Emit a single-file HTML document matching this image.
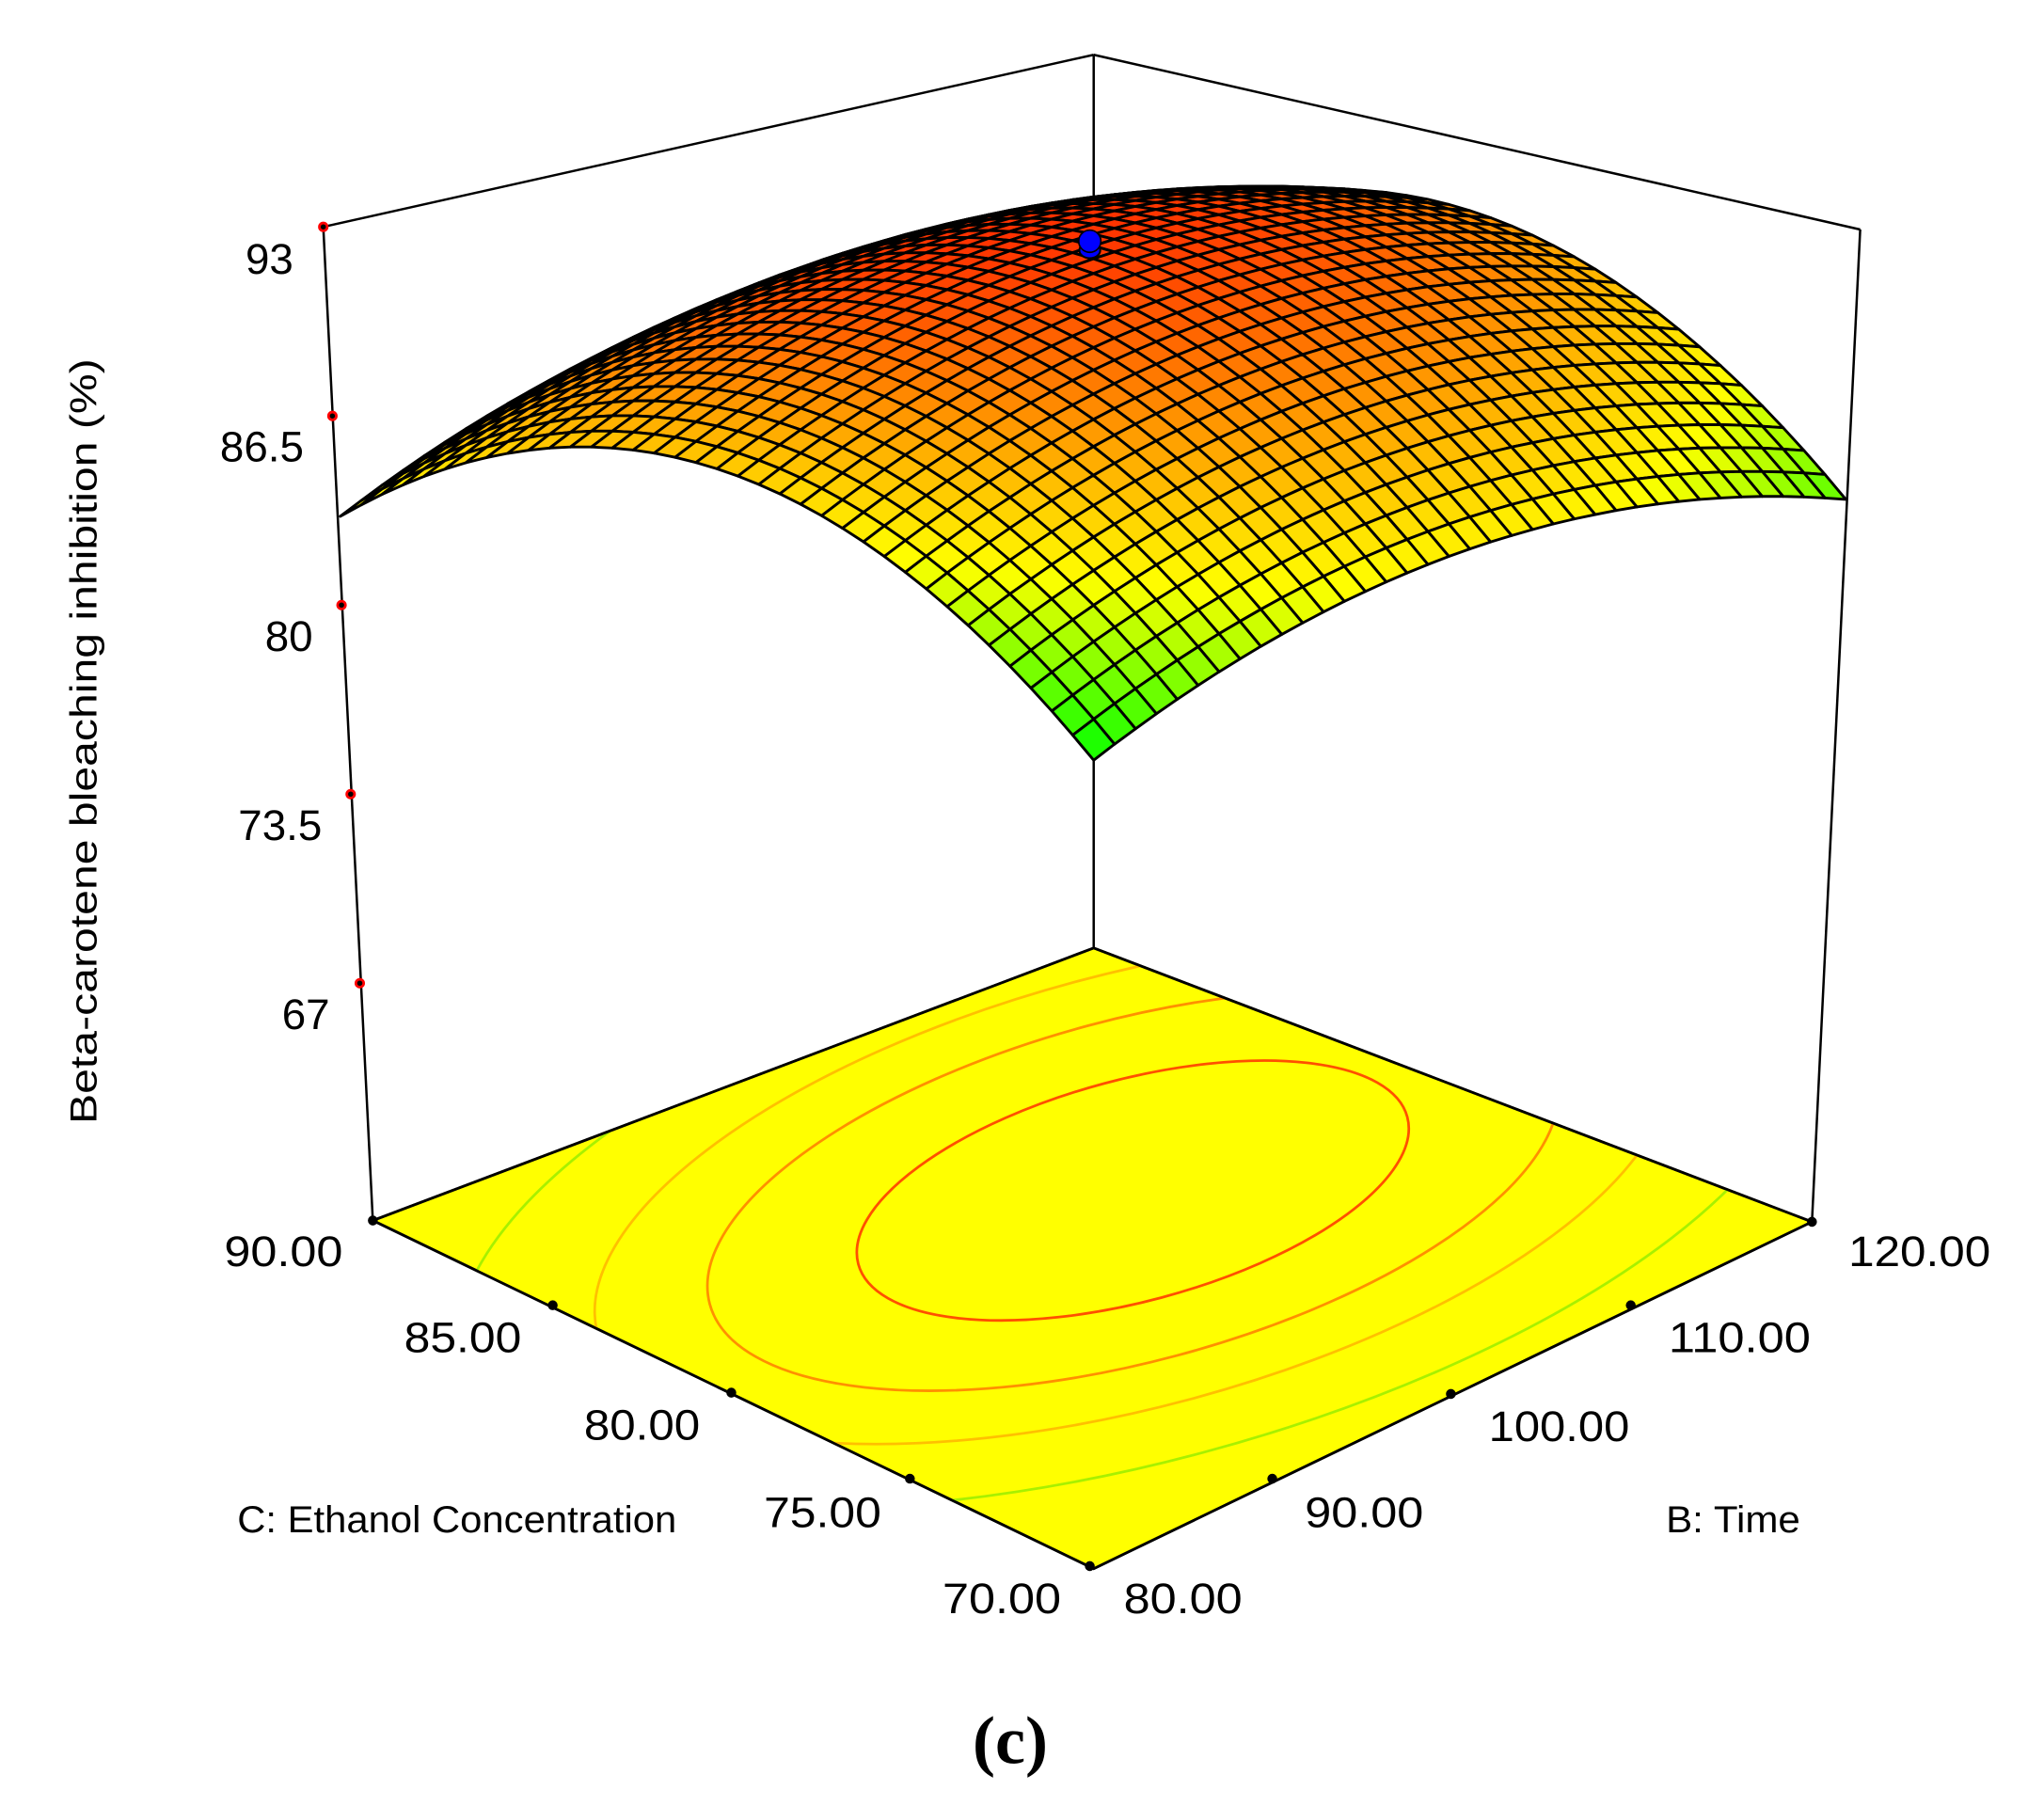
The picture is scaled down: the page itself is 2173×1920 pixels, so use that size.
<!DOCTYPE html>
<html><head><meta charset="utf-8"><style>
html,body{margin:0;padding:0;background:#fff;}
svg{display:block;}
text{font-family:"Liberation Sans",Arial,sans-serif;fill:#000;}
</style></head><body>
<svg id="s" width="2173" height="1920" viewBox="0 0 1568 1385" preserveAspectRatio="none" xmlns="http://www.w3.org/2000/svg">
<defs><clipPath id="fc"><polygon points="286,936 839,727 1390,937 839,1203"/></clipPath></defs>
<rect width="1568" height="1385" fill="#fff"/>
<g stroke="#000" stroke-width="1.8" fill="none">
<line x1="248" y1="174" x2="839" y2="42"/>
<line x1="839" y1="42" x2="1427" y2="176"/>
<line x1="839" y1="42" x2="839" y2="727"/>
<line x1="248" y1="174" x2="286" y2="936"/>
<line x1="1427" y1="176" x2="1390" y2="937"/>
</g>
<polygon points="286,936 839,727 1390,937 839,1203" fill="#ffff00" stroke="#000" stroke-width="2"/>
<g clip-path="url(#fc)" fill="none" stroke-width="2">
<ellipse cx="869" cy="913" rx="534" ry="208" transform="rotate(-15 869 913)" stroke="#a8f000"/>
<ellipse cx="869" cy="913" rx="425" ry="166" transform="rotate(-15 869 913)" stroke="#ffc000"/>
<ellipse cx="869" cy="913" rx="336" ry="131" transform="rotate(-15 869 913)" stroke="#ff9000"/>
<ellipse cx="869" cy="913" rx="218" ry="85" transform="rotate(-15 869 913)" stroke="#ff5000"/>
</g>
<polygon points="286,936 839,727 1390,937 839,1203" fill="none" stroke="#000" stroke-width="2"/>
<g fill="#000">
<circle cx="286" cy="936" r="3.8"/><circle cx="424" cy="1001" r="3.8"/><circle cx="561" cy="1068" r="3.8"/><circle cx="698" cy="1134" r="3.8"/><circle cx="836" cy="1201" r="3.8"/>
<circle cx="976" cy="1134" r="3.8"/><circle cx="1113" cy="1069" r="3.8"/><circle cx="1251" cy="1001" r="3.8"/><circle cx="1390" cy="937" r="3.8"/>
</g>
<g fill="#000" stroke="#f00" stroke-width="2">
<circle cx="248" cy="174" r="3"/><circle cx="255" cy="319" r="3"/><circle cx="262" cy="464" r="3"/><circle cx="269" cy="609" r="3"/><circle cx="276" cy="754" r="3"/>
</g>
<g id="surf"></g>
<ellipse cx="836" cy="192" rx="8" ry="6" fill="#0000ff" stroke="#000" stroke-width="1.5"/>
<ellipse cx="836" cy="185" rx="8.5" ry="8.5" fill="#0000ff" stroke="#000" stroke-width="1.2"/>
<g font-size="33">
<text x="225" y="210" text-anchor="end">93</text>
<text x="233" y="354" text-anchor="end">86.5</text>
<text x="240" y="499" text-anchor="end">80</text>
<text x="247" y="644" text-anchor="end">73.5</text>
<text x="253" y="789" text-anchor="end">67</text>
<text x="172" y="971" textLength="91" lengthAdjust="spacingAndGlyphs">90.00</text>
<text x="310" y="1037" textLength="90" lengthAdjust="spacingAndGlyphs">85.00</text>
<text x="448" y="1104" textLength="89" lengthAdjust="spacingAndGlyphs">80.00</text>
<text x="586" y="1171" textLength="90" lengthAdjust="spacingAndGlyphs">75.00</text>
<text x="723" y="1237" textLength="91" lengthAdjust="spacingAndGlyphs">70.00</text>
<text x="862" y="1237" textLength="91" lengthAdjust="spacingAndGlyphs">80.00</text>
<text x="1001" y="1171" textLength="91" lengthAdjust="spacingAndGlyphs">90.00</text>
<text x="1142" y="1105" textLength="108" lengthAdjust="spacingAndGlyphs">100.00</text>
<text x="1280" y="1037" textLength="109" lengthAdjust="spacingAndGlyphs">110.00</text>
<text x="1418" y="971" textLength="109" lengthAdjust="spacingAndGlyphs">120.00</text>
</g>
<g font-size="29">
<text x="182" y="1175" textLength="337" lengthAdjust="spacingAndGlyphs">C: Ethanol Concentration</text>
<text x="1278" y="1175" textLength="103" lengthAdjust="spacingAndGlyphs">B: Time</text>
<text transform="translate(74,862) rotate(-90)" textLength="587" lengthAdjust="spacingAndGlyphs">Beta-carotene bleaching inhibition (%)</text>
</g>
<text x="775" y="1352" text-anchor="middle" font-size="52" font-weight="bold" style="font-family:'Liberation Serif',serif">(c)</text>
</svg>
<script>
(function(){
var N=36,g=document.getElementById('surf'),out=[];
function X(s,t){return 839*(1-s)*(1-t)+261*s*(1-t)+1416*(1-s)*t+839*s*t;}
function Y(s,t){return 583*(1-s)*(1-t)+396*s*(1-t)+383*(1-s)*t+200*s*t-520*s*(1-s)-248*t*(1-t);}
function Z(s,t){return 0*(1-s)*(1-t)+0.35*s*(1-t)+0.12*(1-s)*t+0.6*s*t+1.4*s*(1-s)+1.4*t*(1-t);}
var stops=[[0,0,255,0],[0.38,255,255,0],[0.72,255,140,0],[1,255,50,0]];
function col(z){z=Math.max(0,Math.min(1,z));for(var i=1;i<stops.length;i++){if(z<=stops[i][0]){var a=stops[i-1],b=stops[i],f=(z-a[0])/(b[0]-a[0]);return 'rgb('+Math.round(a[1]+f*(b[1]-a[1]))+','+Math.round(a[2]+f*(b[2]-a[2]))+','+Math.round(a[3]+f*(b[3]-a[3]))+')';}}return 'rgb(255,50,0)';}
var q=[];
for(var i=0;i<N;i++)for(var j=0;j<N;j++)q.push([i,j]);
q.sort(function(a,b){return (b[0]+b[1])-(a[0]+a[1]);});
for(var k=0;k<q.length;k++){var i=q[k][0],j=q[k][1];
var s0=i/N,s1=(i+1)/N,t0=j/N,t1=(j+1)/N;
var p=[[s0,t0],[s1,t0],[s1,t1],[s0,t1]].map(function(v){return X(v[0],v[1]).toFixed(1)+','+Y(v[0],v[1]).toFixed(1);}).join(' ');
out.push('<polygon points="'+p+'" fill="'+col(Z((s0+s1)/2,(t0+t1)/2))+'"/>');}
g.setAttribute('stroke','#000');g.setAttribute('stroke-width','2.1');g.setAttribute('stroke-linejoin','round');
g.innerHTML=out.join('');
})();
</script>
</body></html>
